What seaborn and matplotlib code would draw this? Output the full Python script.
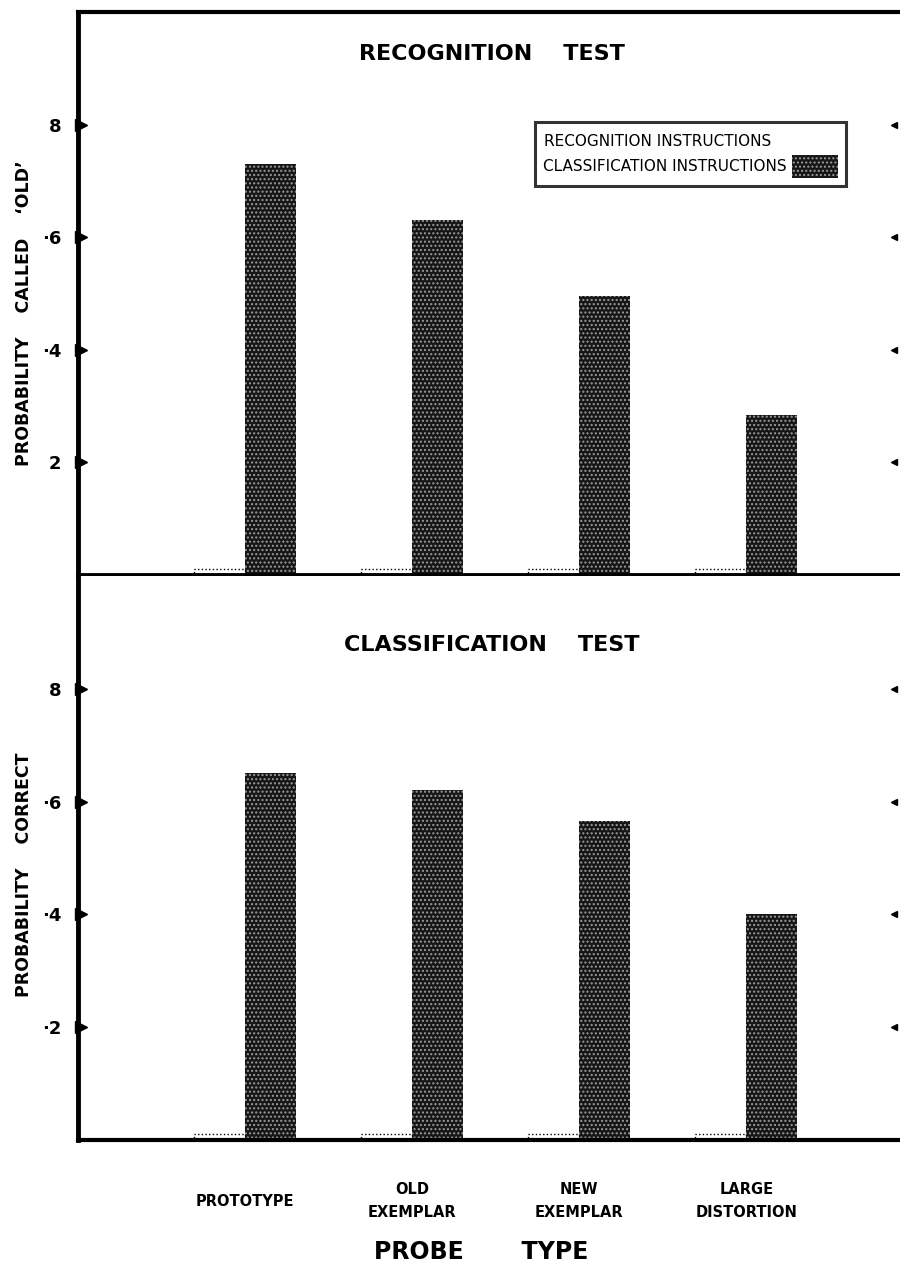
import numpy as np
import pandas as pd
import matplotlib
matplotlib.use('Agg')
import matplotlib.pyplot as plt
import matplotlib.transforms as mtransforms
from matplotlib.patches import Patch
import seaborn as sns

# data
categories = ['PROTOTYPE', 'OLD\nEXEMPLAR', 'NEW\nEXEMPLAR', 'LARGE\nDISTORTION']
instructions = ['RECOGNITION INSTRUCTIONS', 'CLASSIFICATION INSTRUCTIONS']
# the recognition-instruction bars have faded out of the scan, only a dotted trace at the baseline is left
recog_test_recog = [0.01, 0.01, 0.01, 0.01]
recog_test_class = [0.73, 0.63, 0.495, 0.285]
class_test_recog = [0.01, 0.01, 0.01, 0.01]
class_test_class = [0.65, 0.62, 0.565, 0.40]
yticks = [0.2, 0.4, 0.6, 0.8]
top_ticklabels = ['2', '·4', '·6', '8']
bottom_ticklabels = ['·2', '·4', '·6', '8']

sns.set_style('white')
plt.rcParams['font.family'] = ['DejaVu Sans']
plt.rcParams['text.color'] = 'black'
plt.rcParams['xtick.color'] = 'black'
plt.rcParams['ytick.color'] = 'black'

def make_df(recog, classif):
    return pd.DataFrame({
        'probe': categories * 2,
        'instr': [instructions[0]] * 4 + [instructions[1]] * 4,
        'p': recog + classif,
    })

palette = {instructions[0]: 'white', instructions[1]: '#161616'}

fig = plt.figure(figsize=(9, 12.7), dpi=100)
ax1 = fig.add_axes([78 / 900, 1 - 575 / 1270, 1 - 78 / 900, 563 / 1270])
ax2 = fig.add_axes([78 / 900, 1 - 1140 / 1270, 1 - 78 / 900, 564 / 1270])


def draw_panel(ax, df, ticklabels, title, title_y):
    sns.barplot(data=df, x='probe', y='p', hue='instr', order=categories,
                hue_order=instructions, palette=palette, width=0.61, gap=0,
                ax=ax, legend=False, errorbar=None)
    for bar, lab in zip(ax.patches, [instructions[0]] * 4 + [instructions[1]] * 4):
        if lab == instructions[0]:
            bar.set_edgecolor('black')
            bar.set_linestyle(':')
            bar.set_linewidth(1)
        else:
            bar.set_edgecolor('#9a9a9a')
            bar.set_linewidth(0)
            bar.set_hatch('....')
    ax.set_xlim(-1, 3.92)
    ax.set_ylim(0, 1.0)
    ax.set_yticks(yticks)
    ax.set_yticklabels(ticklabels, fontsize=13, fontweight='bold')
    ax.tick_params(axis='y', length=0, pad=12)
    ax.set_xlabel('')
    ax.set_ylabel('')
    for s in ['left', 'top', 'bottom']:
        ax.spines[s].set_color('black')
    ax.spines['left'].set_linewidth(3.5)
    ax.spines['top'].set_linewidth(3)
    ax.spines['bottom'].set_linewidth(3)
    ax.spines['right'].set_visible(False)
    trans = mtransforms.blended_transform_factory(ax.transAxes, ax.transData)
    ax.plot([0.004] * 4, yticks, ls='', marker='>', ms=8, color='black',
            transform=trans, clip_on=False)
    ax.plot([0.993] * 4, yticks, ls='', marker='<', ms=5, color='black',
            transform=trans, clip_on=False)
    ax.text(0.503, title_y, title, transform=ax.transAxes, ha='center',
            va='center', fontsize=16, fontweight='bold')


draw_panel(ax1, make_df(recog_test_recog, recog_test_class), top_ticklabels,
           'RECOGNITION    TEST', 0.925)
ax1.set_xticks([])
ax1.spines['bottom'].set_linewidth(3.5)

draw_panel(ax2, make_df(class_test_recog, class_test_class), bottom_ticklabels,
           'CLASSIFICATION    TEST', 0.877)
ax2.spines['top'].set_visible(False)
ax2.set_xticks(range(len(categories)))
ax2.set_xticklabels(categories, fontsize=10.5, fontweight='bold',
                    linespacing=1.7, va='center')
ax2.tick_params(axis='x', length=0, pad=44)

handles = [Patch(facecolor='white', edgecolor='none'),
           Patch(facecolor='#161616', edgecolor='#9a9a9a', hatch='....', linewidth=0)]
# trailing spaces keep both labels starting at the same x (labels are right-aligned)
leg_labels = [instructions[0] + '   ', instructions[1]]
leg = ax1.legend(handles, leg_labels, loc='upper left',
                 bbox_to_anchor=(0.556, 0.805), markerfirst=False,
                 frameon=True, fancybox=False, fontsize=11,
                 handlelength=3.0, handleheight=2.0, labelspacing=0.1,
                 borderpad=0.5, handletextpad=0.4, borderaxespad=0)
leg.get_frame().set_edgecolor('black')
leg.get_frame().set_linewidth(2.2)

fig.text(24 / 900, 1 - 313 / 1270, 'PROBABILITY    CALLED    ‘OLD’', rotation=90,
         ha='center', va='center', fontsize=12.5, fontweight='bold')
fig.text(24 / 900, 1 - 875 / 1270, 'PROBABILITY    CORRECT', rotation=90,
         ha='center', va='center', fontsize=12.5, fontweight='bold')
fig.text(481 / 900, 1 - 1252 / 1270, 'PROBE       TYPE', ha='center', va='center',
         fontsize=17, fontweight='bold')

fig.savefig('out.png', dpi=100)
